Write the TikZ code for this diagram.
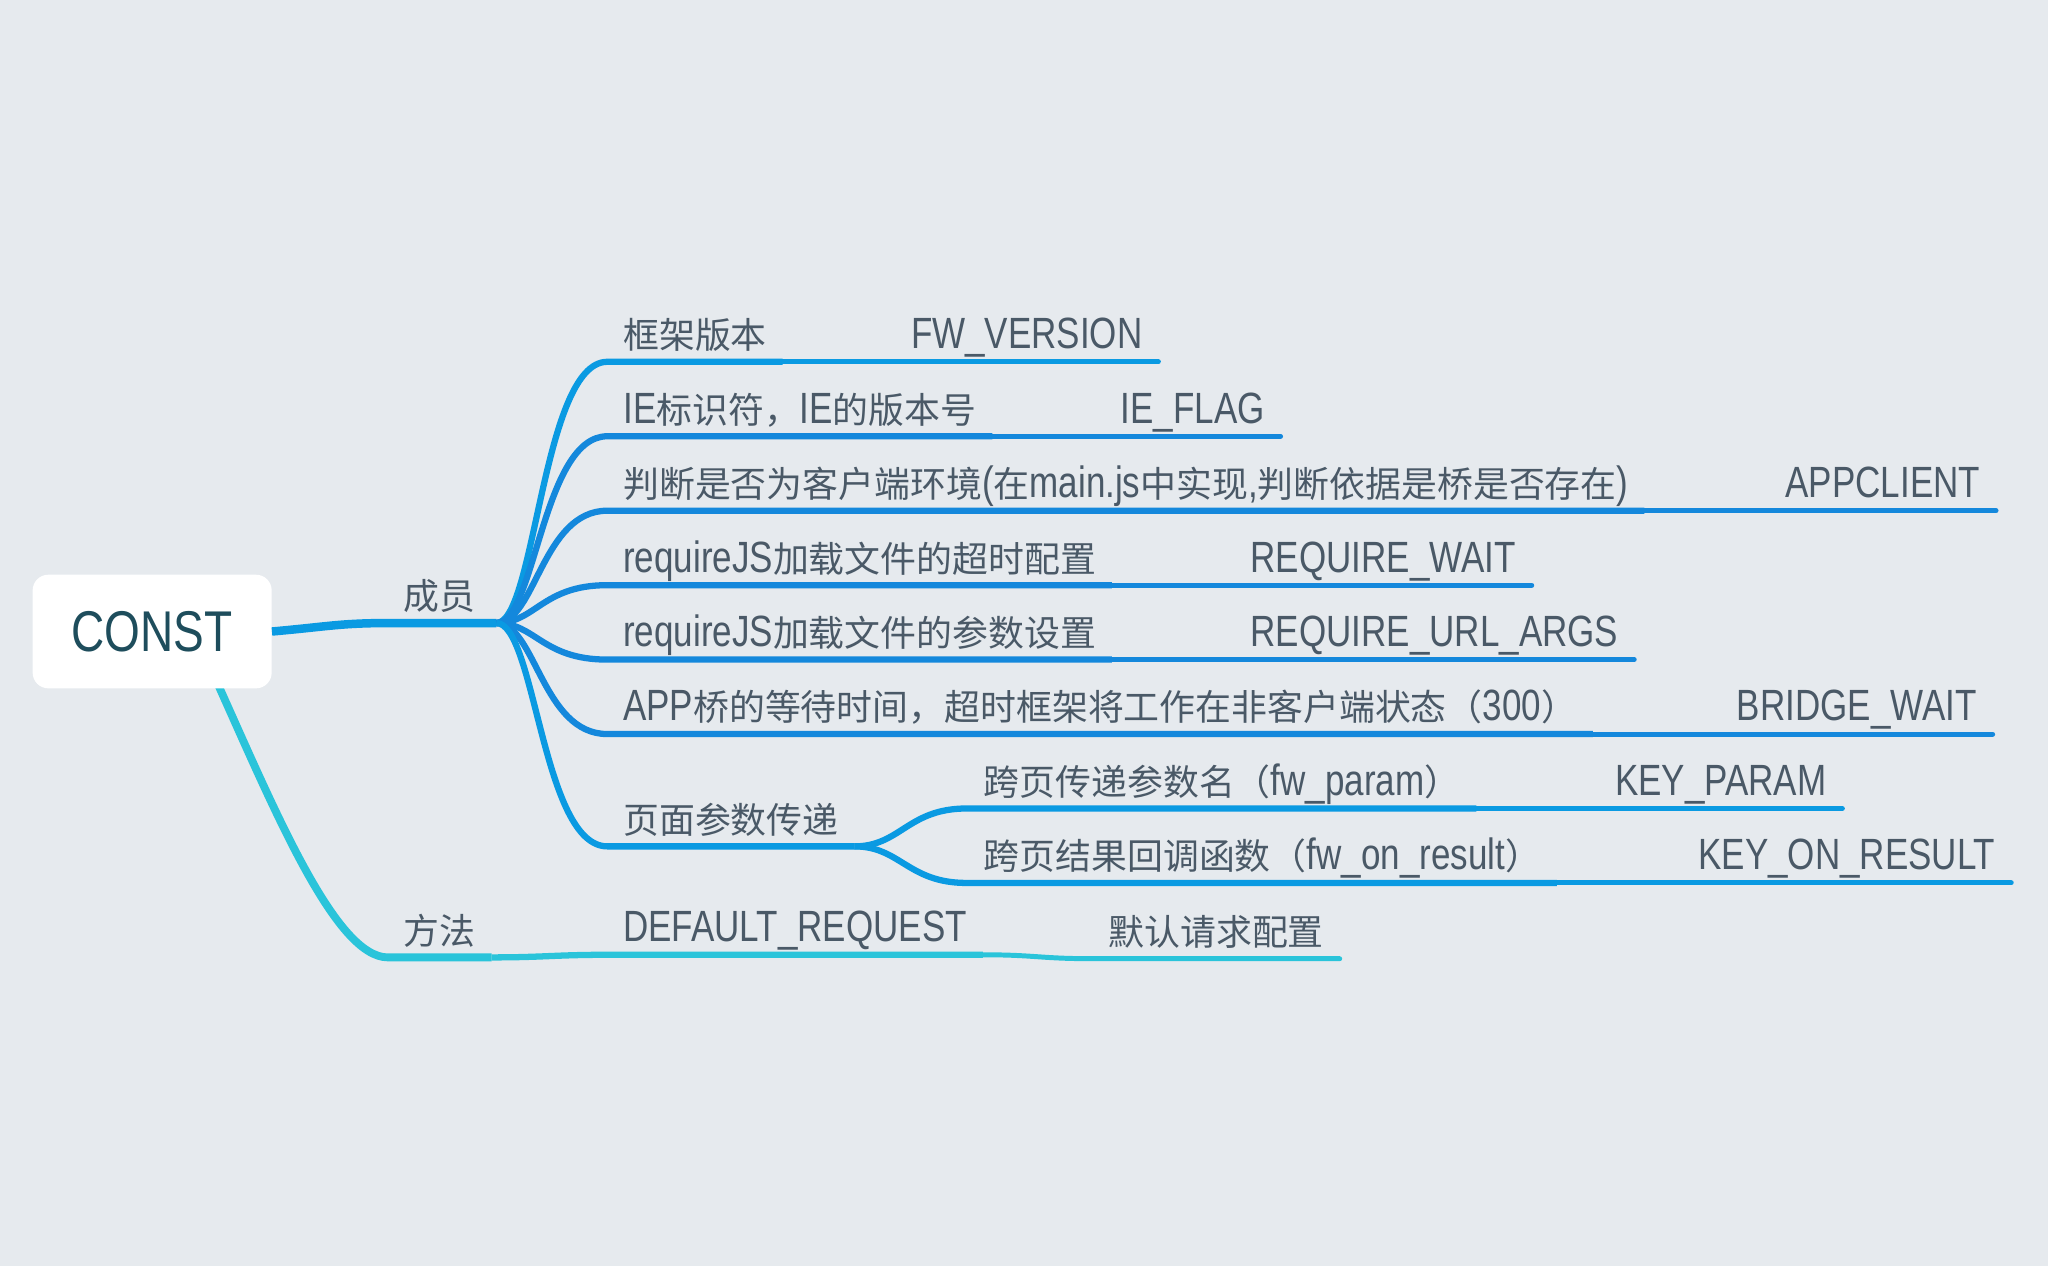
\documentclass[tikz,border=0pt]{standalone}
\usepackage{fontspec}
\setmainfont{Liberation Sans}[FakeStretch=0.8]
\newfontfamily\cjkfont{Noto Sans CJK SC}[Scale=0.82]
\newcommand{\zh}[1]{{\cjkfont #1}}
\definecolor{bgcol}{HTML}{E6EAEE}
\definecolor{txtcol}{HTML}{4A5967}
\definecolor{rootcol}{HTML}{1E4D5C}
\definecolor{bluea}{HTML}{0A9AE2}
\definecolor{blueb}{HTML}{1488DC}
\definecolor{cyanc}{HTML}{2AC4DA}
\tikzset{
	root/.style={fill=white, rounded corners=12pt, minimum width=183pt, minimum height=87pt, inner sep=0pt, text=rootcol, font=\fontsize{44}{48}\selectfont},
	topic/.style={anchor=base west, inner sep=0pt, text=txtcol, font=\fontsize{33.5}{36}\selectfont},
	trunk/.style={line width=6.5pt, draw=bluea},
	branch/.style={line width=4.8pt, draw=#1},
	leaf/.style={line width=3.8pt, draw=#1, line cap=round},
	methodline/.style={line width=#1, draw=cyanc}
}

\begin{document}
\begin{tikzpicture}[x=1pt,y=-1pt]
	\fill[bgcol] (0,0) rectangle (1568,969);
	\useasboundingbox (0,0) rectangle (1568,969);
	% method branch, under the root box
	\coordinate (mstart) at (166,522);
	\coordinate (smethod) at (297,733);
	\node[topic] (tmethod) at (309,723) {\zh{方法}};
	\coordinate (mmethod) at ([xshift=12pt,yshift=-10pt]tmethod.base east);
	\draw[methodline=6pt] (mstart) .. controls +(45,100) and +(-40,0) .. (smethod) -- (mmethod);
	\coordinate (sdefault) at (465,731);
	\node[topic] (tdefault) at (477,721) {DEFAULT\_REQUEST};
	\coordinate (mdefault) at ([xshift=12pt,yshift=-10pt]tdefault.base east);
	\coordinate (sconf) at ([xshift=84pt,yshift=-3pt]mdefault);
	\node[topic] (vconf) at ([xshift=12pt,yshift=10pt]sconf) {\zh{默认请求配置}};
	\coordinate (econf) at ([xshift=12pt,yshift=-10pt]vconf.base east);
	\draw[methodline=4.8pt] (mmethod) .. controls +(40,0) and +(-40,0) .. (sdefault) -- (mdefault);
	\draw[methodline=3.8pt, line cap=round] (mdefault) .. controls +(40,0) and +(-40,0) .. (sconf) -- (econf);
	
	\node[root] (const) at (116.5,483.5) {CONST};
	
	% members
	\coordinate (J) at (380,477);
	\coordinate (smember) at (300,477);
	\node[topic] (tmember) at (309,467) {\zh{成员}};
	\draw[trunk] (const.east) .. controls +(45,-4) and +(-40,0) .. (smember) -- (J);
	
	\coordinate (sfw) at (465,277);
	\node[topic] (tfw) at (477,267) {\zh{框架版本}};
	\coordinate (mfw) at ([xshift=12pt,yshift=-10pt]tfw.base east);
	\node[topic] (vfw) at ([xshift=110pt]tfw.base east) {FW\_VERSION};
	\draw[branch=bluea] (J) .. controls +(30,0) and +(-50,0) .. (sfw) -- (mfw);
	\draw[leaf=bluea] (mfw) -- ([xshift=12pt,yshift=-10pt]vfw.base east);
	
	\coordinate (sie) at (465,334);
	\node[topic] (tie) at (477,324) {IE\zh{标识符，}IE\zh{的版本号}};
	\coordinate (mie) at ([xshift=12pt,yshift=-10pt]tie.base east);
	\node[topic] (vie) at ([xshift=110pt]tie.base east) {IE\_FLAG};
	\draw[branch=blueb] (J) .. controls +(30,0) and +(-50,0) .. (sie) -- (mie);
	\draw[leaf=blueb] (mie) -- ([xshift=12pt,yshift=-10pt]vie.base east);
	
	\coordinate (sapp) at (465,391);
	\node[topic] (tapp) at (477,381) {\zh{判断是否为客户端环境}(\zh{在}main.js\zh{中实现},\zh{判断依据是桥是否存在})};
	\coordinate (mapp) at ([xshift=12pt,yshift=-10pt]tapp.base east);
	\node[topic] (vapp) at ([xshift=120pt]tapp.base east) {APPCLIENT};
	\draw[branch=blueb] (J) .. controls +(30,0) and +(-50,0) .. (sapp) -- (mapp);
	\draw[leaf=blueb] (mapp) -- ([xshift=12pt,yshift=-10pt]vapp.base east);
	
	\coordinate (swait) at (465,448);
	\node[topic] (twait) at (477,438) {requireJS\zh{加载文件的超时配置}};
	\coordinate (mwait) at ([xshift=12pt,yshift=-10pt]twait.base east);
	\node[topic] (vwait) at ([xshift=118pt]twait.base east) {REQUIRE\_WAIT};
	\draw[branch=blueb] (J) .. controls +(30,0) and +(-50,0) .. (swait) -- (mwait);
	\draw[leaf=blueb] (mwait) -- ([xshift=12pt,yshift=-10pt]vwait.base east);
	
	\coordinate (sargs) at (465,505);
	\node[topic] (targs) at (477,495) {requireJS\zh{加载文件的参数设置}};
	\coordinate (margs) at ([xshift=12pt,yshift=-10pt]targs.base east);
	\node[topic] (vargs) at ([xshift=118pt]targs.base east) {REQUIRE\_URL\_ARGS};
	\draw[branch=blueb] (J) .. controls +(30,0) and +(-50,0) .. (sargs) -- (margs);
	\draw[leaf=blueb] (margs) -- ([xshift=12pt,yshift=-10pt]vargs.base east);
	
	\coordinate (sbridge) at (465,562);
	\node[topic] (tbridge) at (477,552) {APP\zh{桥的等待时间，超时框架将工作在非客户端状态（}300\zh{）}};
	\coordinate (mbridge) at ([xshift=12pt,yshift=-10pt]tbridge.base east);
	\node[topic] (vbridge) at ([xshift=122pt]tbridge.base east) {BRIDGE\_WAIT};
	\draw[branch=blueb] (J) .. controls +(30,0) and +(-50,0) .. (sbridge) -- (mbridge);
	\draw[leaf=blueb] (mbridge) -- ([xshift=12pt,yshift=-10pt]vbridge.base east);
	
	% page parameters
	\coordinate (spage) at (465,648);
	\node[topic] (tpage) at (477,638) {\zh{页面参数传递}};
	\coordinate (mpage) at ([xshift=12pt,yshift=-10pt]tpage.base east);
	\draw[branch=bluea] (J) .. controls +(30,0) and +(-50,0) .. (spage) -- (mpage);
	
	\coordinate (sparam) at (740,619);
	\node[topic] (tparam) at (753,609) {\zh{跨页传递参数名（}fw\_param\zh{）}};
	\coordinate (mparam) at ([xshift=12pt,yshift=-10pt]tparam.base east);
	\node[topic] (vparam) at ([xshift=118pt]tparam.base east) {KEY\_PARAM};
	\draw[branch=bluea] (mpage) .. controls +(35,0) and +(-45,0) .. (sparam) -- (mparam);
	\draw[leaf=bluea] (mparam) -- ([xshift=12pt,yshift=-10pt]vparam.base east);
	
	\coordinate (sresult) at (740,676);
	\node[topic] (tresult) at (753,666) {\zh{跨页结果回调函数（}fw\_on\_result\zh{）}};
	\coordinate (mresult) at ([xshift=12pt,yshift=-10pt]tresult.base east);
	\node[topic] (vresult) at ([xshift=120pt]tresult.base east) {KEY\_ON\_RESULT};
	\draw[branch=bluea] (mpage) .. controls +(35,0) and +(-45,0) .. (sresult) -- (mresult);
	\draw[leaf=bluea] (mresult) -- ([xshift=12pt,yshift=-10pt]vresult.base east);
\end{tikzpicture}
\end{document}
